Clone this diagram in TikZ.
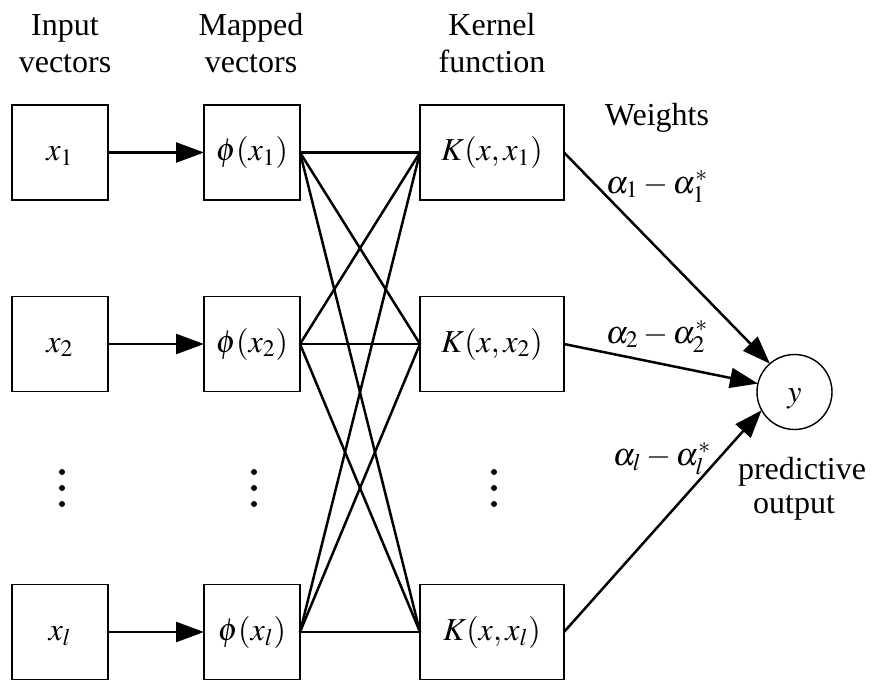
\documentclass[tikz,border=0pt]{standalone}
\usepackage{mathptmx}
\usepackage[no-math]{fontspec}
\setmainfont{Liberation Serif}
\usetikzlibrary{arrows.meta}
\begin{document}
\begin{tikzpicture}[x=0.5pt,y=-0.5pt,
  every node/.style={font=\fontsize{16}{19}\selectfont},
  box/.style={draw,line width=0.7pt,inner sep=0pt,outer sep=0pt,minimum height=47.5pt,text height=10pt,text depth=2pt},
  inbox/.style={box,minimum width=48pt},
  kbox/.style={box,minimum width=72pt},
  conn/.style={line width=1.25pt},
  arr/.style={conn,-{Triangle[length=14pt,width=10pt]}},
  lbl/.style={anchor=base,inner sep=0pt}]
\useasboundingbox (0,0) rectangle (872,680);
% column titles
\node[lbl] (t1a) at (65,35) {Input};
\node[lbl] (t1b) at (65,72) {vectors};
\node[lbl] (t2a) at (251,35) {Mapped};
\node[lbl] (t2b) at (251,72) {vectors};
\node[lbl] (t3a) at (492,35) {Kernel};
\node[lbl] (t3b) at (492,72) {function};
\node[lbl] (tw) at (657,125) {Weights};
% boxes
\node[inbox] (x1) at (60,152.5) {$x_1$};
\node[inbox] (x2) at (60,344) {$x_2$};
\node[inbox] (xl) at (60,632) {$x_l$};
\node[inbox] (p1) at (252,152.5) {$\phi(x_1)$};
\node[inbox] (p2) at (252,344) {$\phi(x_2)$};
\node[inbox] (pl) at (252,632) {$\phi(x_l)$};
\node[kbox] (k1) at (492,152.5) {$K(x,x_1)$};
\node[kbox] (k2) at (492,344) {$K(x,x_2)$};
\node[kbox] (kl) at (492,632) {$K(x,x_l)$};
\node[draw,circle,line width=0.7pt,minimum size=37.5pt,inner sep=0pt,outer sep=0pt,text height=10pt,text depth=0pt] (y) at (794.5,392) {$y$};
% dots
\foreach \x in {62,254,494}
  \foreach \y in {472,488,504}
    \fill (\x,\y) circle (1.5pt);
% connectors
\draw[arr] (x1) -- (p1);
\draw[arr] (x2) -- (p2);
\draw[arr] (xl) -- (pl);
\foreach \a in {p1,p2,pl}
  \foreach \b in {k1,k2,kl}
    \draw[conn] (\a.east) -- (\b.west);
\draw[arr] (k1.east) -- (y.131.5);
\draw[arr] (k2.east) -- (y.167);
\draw[arr] (kl.east) -- (y.209);
% weights
\node[lbl] (w1) at (657,193) {$\alpha_1-\alpha_1^*$};
\node[lbl] (w2) at (657,343) {$\alpha_2-\alpha_2^*$};
\node[lbl] (wl) at (662,465) {$\alpha_l-\alpha_l^*$};
% output labels
\node[lbl] (o1) at (802,479) {predictive};
\node[lbl] (o2) at (794,513) {output};
\end{tikzpicture}
\end{document}
